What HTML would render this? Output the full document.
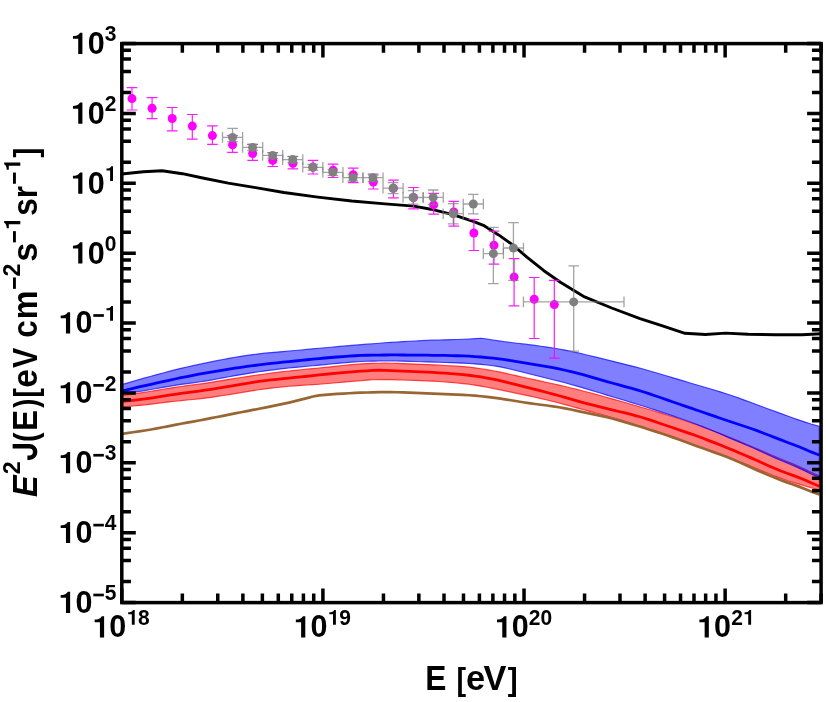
<!DOCTYPE html>
<html><head><meta charset="utf-8"><title>E2J(E) spectrum</title>
<style>
html,body{margin:0;padding:0;background:#fff;}
body{width:826px;height:702px;overflow:hidden;}
svg{display:block;}
text{font-family:"Liberation Sans",sans-serif;font-weight:bold;fill:#000;}
</style></head><body>
<svg width="826" height="702" viewBox="0 0 826 702">
<rect x="0" y="0" width="826" height="702" fill="#ffffff"/>
<defs><clipPath id="pc"><rect x="121.8" y="43.6" width="699.3" height="559"/></clipPath></defs>
<g clip-path="url(#pc)" fill="none" stroke-linejoin="round">
<path d="M121,395.8 L127,394.85 L133,393.94 L139,393.07 L145,392.2 L151,391.28 L157,390.31 L163,389.3 L169,388.31 L175,387.34 L181,386.46 L187,385.66 L193,384.92 L199,384.16 L205,383.31 L211,382.36 L217,381.35 L223,380.34 L229,379.35 L235,378.39 L241,377.46 L247,376.56 L253,375.67 L259,374.81 L265,373.98 L271,373.18 L277,372.4 L283,371.65 L289,370.95 L295,370.31 L301,369.72 L307,369.16 L313,368.6 L319,368.03 L325,367.43 L331,366.81 L337,366.17 L343,365.53 L349,364.92 L355,364.38 L361,363.94 L367,363.61 L373,363.38 L379,363.24 L385,363.19 L391,363.24 L397,363.39 L403,363.59 L409,363.83 L415,364.08 L421,364.33 L427,364.59 L433,364.87 L439,365.16 L445,365.46 L451,365.77 L457,366.14 L463,366.59 L469,367.16 L475,367.87 L481,368.7 L487,369.65 L493,370.73 L499,371.91 L505,373.18 L511,374.51 L517,375.86 L523,377.21 L529,378.55 L535,379.87 L541,381.16 L547,382.45 L553,383.75 L559,385.1 L565,386.49 L571,387.94 L577,389.43 L583,390.96 L589,392.53 L595,394.14 L601,395.78 L607,397.44 L613,399.12 L619,400.82 L625,402.53 L631,404.24 L637,405.97 L643,407.72 L649,409.49 L655,411.28 L661,413.09 L667,414.93 L673,416.81 L679,418.74 L685,420.71 L691,422.72 L697,424.82 L703,427 L709,429.26 L715,431.55 L721,433.88 L727,436.24 L733,438.66 L739,441.14 L745,443.66 L751,446.21 L757,448.77 L763,451.34 L769,453.91 L775,456.46 L781,458.97 L787,461.43 L793,463.89 L799,466.44 L805,469.22 L811,472.3 L819.3,475.9 L819.3,489.9 L811,487.78 L805,485.96 L799,484.17 L793,482.36 L787,480.46 L781,478.41 L775,476.16 L769,473.72 L763,471.19 L757,468.67 L751,466.21 L745,463.8 L739,461.46 L733,459.16 L727,456.92 L721,454.74 L715,452.6 L709,450.47 L703,448.35 L697,446.23 L691,444.13 L685,442.04 L679,439.95 L673,437.87 L667,435.78 L661,433.7 L655,431.62 L649,429.54 L643,427.49 L637,425.46 L631,423.46 L625,421.49 L619,419.56 L613,417.7 L607,415.95 L601,414.31 L595,412.72 L589,411.14 L583,409.53 L577,407.89 L571,406.23 L565,404.59 L559,403.01 L553,401.49 L547,400.04 L541,398.62 L535,397.24 L529,395.9 L523,394.6 L517,393.33 L511,392.07 L505,390.82 L499,389.58 L493,388.37 L487,387.21 L481,386.13 L475,385.16 L469,384.3 L463,383.56 L457,382.95 L451,382.43 L445,381.96 L439,381.53 L433,381.14 L427,380.83 L421,380.58 L415,380.38 L409,380.2 L403,380.02 L397,379.85 L391,379.68 L385,379.57 L379,379.59 L373,379.79 L367,380.14 L361,380.59 L355,381.09 L349,381.62 L343,382.16 L337,382.7 L331,383.24 L325,383.75 L319,384.23 L313,384.66 L307,385.04 L301,385.42 L295,385.82 L289,386.29 L283,386.86 L277,387.5 L271,388.18 L265,388.93 L259,389.74 L253,390.65 L247,391.62 L241,392.62 L235,393.62 L229,394.59 L223,395.53 L217,396.44 L211,397.31 L205,398.13 L199,398.85 L193,399.47 L187,400.03 L181,400.61 L175,401.23 L169,401.89 L163,402.61 L157,403.37 L151,404.13 L145,404.82 L139,405.44 L133,406.02 L127,406.6 L121,407.2 Z" fill="#ff0000" fill-opacity="0.5" stroke="#ff0000" stroke-opacity="0.7" stroke-width="1.15"/>
<path d="M121,384.8 L127,383.1 L133,381.39 L139,379.65 L145,377.92 L151,376.23 L157,374.58 L163,372.96 L169,371.38 L175,369.82 L181,368.33 L187,366.94 L193,365.63 L199,364.38 L205,363.13 L211,361.89 L217,360.65 L223,359.44 L229,358.31 L235,357.27 L241,356.32 L247,355.43 L253,354.6 L259,353.84 L265,353.19 L271,352.61 L277,352.09 L283,351.57 L289,351.05 L295,350.51 L301,349.96 L307,349.39 L313,348.83 L319,348.28 L325,347.73 L331,347.2 L337,346.68 L343,346.17 L349,345.66 L355,345.16 L361,344.66 L367,344.18 L373,343.7 L379,343.23 L385,342.77 L391,342.35 L397,341.97 L403,341.62 L409,341.3 L415,340.99 L421,340.69 L427,340.42 L433,340.18 L439,339.98 L445,339.81 L451,339.63 L457,339.45 L463,339.22 L469,338.95 L475,338.63 L481,338.29 L487,339.02 L493,340.01 L499,340.93 L505,341.76 L511,342.5 L517,343.21 L523,343.92 L529,344.65 L535,345.43 L541,346.24 L547,347.09 L553,348 L559,349 L565,350.12 L571,351.36 L577,352.66 L583,354.03 L589,355.44 L595,356.9 L601,358.39 L607,359.88 L613,361.37 L619,362.85 L625,364.33 L631,365.84 L637,367.39 L643,369.02 L649,370.72 L655,372.48 L661,374.26 L667,376.04 L673,377.83 L679,379.62 L685,381.4 L691,383.19 L697,384.97 L703,386.74 L709,388.51 L715,390.3 L721,392.11 L727,394.01 L733,396.01 L739,398.14 L745,400.34 L751,402.56 L757,404.79 L763,407 L769,409.21 L775,411.41 L781,413.61 L787,415.81 L793,417.98 L799,420.1 L805,422.1 L811,423.99 L819.3,426.4 L819.3,477.5 L811,473.94 L805,470.88 L799,468.13 L793,465.58 L787,463.09 L781,460.56 L775,457.93 L769,455.21 L763,452.47 L757,449.75 L751,447.08 L745,444.48 L739,441.92 L733,439.38 L727,436.85 L721,434.33 L715,431.81 L709,429.31 L703,426.85 L697,424.49 L691,422.23 L685,420.07 L679,417.97 L673,415.91 L667,413.87 L661,411.87 L655,409.91 L649,407.96 L643,406.05 L637,404.19 L631,402.37 L625,400.57 L619,398.78 L613,396.98 L607,395.15 L601,393.3 L595,391.44 L589,389.61 L583,387.83 L577,386.11 L571,384.45 L565,382.82 L559,381.24 L553,379.7 L547,378.19 L541,376.7 L535,375.21 L529,373.71 L523,372.22 L517,370.72 L511,369.25 L505,367.87 L499,366.66 L493,365.7 L487,364.97 L481,364.4 L475,363.92 L469,363.52 L463,363.19 L457,362.92 L451,362.69 L445,362.49 L439,362.29 L433,362.1 L427,361.91 L421,361.72 L415,361.53 L409,361.35 L403,361.17 L397,361.04 L391,360.96 L385,360.96 L379,361.02 L373,361.13 L367,361.28 L361,361.51 L355,361.86 L349,362.32 L343,362.86 L337,363.43 L331,364.01 L325,364.58 L319,365.15 L313,365.71 L307,366.26 L301,366.82 L295,367.39 L289,368.01 L283,368.67 L277,369.37 L271,370.11 L265,370.88 L259,371.72 L253,372.65 L247,373.63 L241,374.64 L235,375.68 L229,376.75 L223,377.85 L217,378.97 L211,380.07 L205,381.11 L199,382.03 L193,382.85 L187,383.62 L181,384.44 L175,385.34 L169,386.33 L163,387.38 L157,388.47 L151,389.55 L145,390.56 L139,391.49 L133,392.38 L127,393.28 L121,394.2 Z" fill="#0000ff" fill-opacity="0.5" stroke="#0000ff" stroke-opacity="0.7" stroke-width="1.15"/>
<path d="M121,434 L127,433.14 L133,432.27 L139,431.38 L145,430.46 L151,429.48 L157,428.42 L163,427.29 L169,426.11 L175,424.93 L181,423.77 L187,422.65 L193,421.57 L199,420.47 L205,419.35 L211,418.18 L217,417 L223,415.81 L229,414.62 L235,413.44 L241,412.28 L247,411.11 L253,409.95 L259,408.77 L265,407.59 L271,406.39 L277,405.18 L283,403.93 L289,402.6 L295,401.18 L301,399.67 L307,398.11 L313,396.53 L319,395.39 L325,394.84 L331,394.36 L337,393.95 L343,393.58 L349,393.25 L355,392.95 L361,392.7 L367,392.5 L373,392.34 L379,392.21 L385,392.13 L391,392.13 L397,392.24 L403,392.43 L409,392.67 L415,392.93 L421,393.19 L427,393.44 L433,393.67 L439,393.88 L445,394.09 L451,394.3 L457,394.54 L463,394.84 L469,395.23 L475,395.71 L481,396.27 L487,396.91 L493,397.63 L499,398.45 L505,399.34 L511,400.29 L517,401.26 L523,402.22 L529,403.13 L535,403.98 L541,404.75 L547,405.51 L553,406.3 L559,407.22 L565,408.31 L571,409.54 L577,410.84 L583,412.14 L589,413.4 L595,414.63 L601,415.88 L607,417.22 L613,418.7 L619,420.35 L625,422.09 L631,423.9 L637,425.73 L643,427.58 L649,429.45 L655,431.35 L661,433.29 L667,435.29 L673,437.38 L679,439.55 L685,441.75 L691,443.96 L697,446.15 L703,448.32 L709,450.46 L715,452.61 L721,454.8 L727,457.09 L733,459.53 L739,462.12 L745,464.8 L751,467.5 L757,470.17 L763,472.8 L769,475.37 L775,477.84 L781,480.18 L787,482.38 L793,484.5 L799,486.63 L805,488.91 L811,491.4 L819.3,494.5" stroke="#996633" stroke-width="2.7"/>
<path d="M121,401.7 L127,400.98 L133,400.29 L139,399.61 L145,398.88 L151,398.06 L157,397.14 L163,396.16 L169,395.19 L175,394.26 L181,393.39 L187,392.58 L193,391.82 L199,391.04 L205,390.19 L211,389.28 L217,388.31 L223,387.33 L229,386.33 L235,385.32 L241,384.29 L247,383.27 L253,382.29 L259,381.4 L265,380.62 L271,379.94 L277,379.31 L283,378.7 L289,378.09 L295,377.48 L301,376.87 L307,376.25 L313,375.62 L319,374.98 L325,374.36 L331,373.75 L337,373.17 L343,372.61 L349,372.07 L355,371.57 L361,371.15 L367,370.78 L373,370.45 L379,370.23 L385,370.46 L391,370.68 L397,370.91 L403,371.14 L409,371.38 L415,371.62 L421,371.87 L427,372.14 L433,372.46 L439,372.8 L445,373.18 L451,373.59 L457,374.04 L463,374.58 L469,375.25 L475,376.04 L481,376.97 L487,378.01 L493,379.18 L499,380.47 L505,381.86 L511,383.33 L517,384.82 L523,386.33 L529,387.85 L535,389.39 L541,390.94 L547,392.51 L553,394.11 L559,395.74 L565,397.43 L571,399.15 L577,400.87 L583,402.54 L589,404.14 L595,405.67 L601,407.15 L607,408.61 L613,410.06 L619,411.5 L625,412.95 L631,414.44 L637,416.03 L643,417.78 L649,419.68 L655,421.68 L661,423.72 L667,425.76 L673,427.78 L679,429.8 L685,431.82 L691,433.89 L697,436.03 L703,438.26 L709,440.57 L715,442.92 L721,445.29 L727,447.7 L733,450.16 L739,452.68 L745,455.24 L751,457.85 L757,460.51 L763,463.22 L769,465.92 L775,468.54 L781,470.99 L787,473.26 L793,475.41 L799,477.62 L805,480.04 L811,482.76 L819.3,486.3" stroke="#ff0000" stroke-width="2.8"/>
<path d="M121,391.2 L127,389.79 L133,388.38 L139,386.98 L145,385.61 L151,384.26 L157,382.94 L163,381.62 L169,380.31 L175,379 L181,377.73 L187,376.51 L193,375.35 L199,374.23 L205,373.16 L211,372.1 L217,371.06 L223,370.05 L229,369.08 L235,368.15 L241,367.28 L247,366.43 L253,365.62 L259,364.85 L265,364.14 L271,363.48 L277,362.85 L283,362.22 L289,361.61 L295,360.99 L301,360.37 L307,359.76 L313,359.15 L319,358.56 L325,358 L331,357.49 L337,357.01 L343,356.55 L349,356.12 L355,355.75 L361,355.47 L367,355.27 L373,355.13 L379,355.04 L385,354.98 L391,354.96 L397,354.97 L403,355 L409,355.04 L415,355.08 L421,355.14 L427,355.2 L433,355.28 L439,355.37 L445,355.47 L451,355.59 L457,355.73 L463,355.93 L469,356.21 L475,356.57 L481,357.01 L487,357.53 L493,358.15 L499,358.88 L505,359.71 L511,360.62 L517,361.57 L523,362.53 L529,363.51 L535,364.52 L541,365.56 L547,366.63 L553,367.74 L559,368.94 L565,370.25 L571,371.66 L577,373.15 L583,374.72 L589,376.37 L595,378.09 L601,379.83 L607,381.57 L613,383.26 L619,384.91 L625,386.53 L631,388.18 L637,389.9 L643,391.74 L649,393.69 L655,395.73 L661,397.8 L667,399.87 L673,401.95 L679,404.01 L685,406.08 L691,408.14 L697,410.21 L703,412.28 L709,414.35 L715,416.42 L721,418.47 L727,420.51 L733,422.52 L739,424.5 L745,426.49 L751,428.53 L757,430.68 L763,432.94 L769,435.27 L775,437.61 L781,439.92 L787,442.19 L793,444.44 L799,446.75 L805,449.21 L811,451.91 L819.3,455" stroke="#0000ff" stroke-width="2.8"/>
<path d="M121,174.2 L123.9,173.8 L143.4,171.7 L162.1,170.7 L182.4,173.7 L202.7,178 L228.2,183.1 L254,187.4 L283.9,192.5 L317.8,197.1 L351.7,201 L385,203.9 L413.9,206.1 L430.8,209.2 L452.9,214.6 L473.2,221.4 L483.4,225.3 L498.6,234.9 L512,244.4 L526.9,257.1 L543.9,270.7 L560.8,282.5 L584.6,296.9 L611.7,308 L640,318.6 L662.5,325.9 L685,333.3 L705.3,334.5 L725.6,333.1 L748.1,334.2 L775.1,334.7 L802.2,334.7 L821,333.8" stroke="#000" stroke-width="2.9"/>
</g>
<g clip-path="url(#pc)">
<g stroke="#ff00ff" stroke-opacity="0.9" stroke-width="1.2" fill="none">
<path d="M131.98,87.7 V110 M126.68,87.7 H137.28 M126.68,110 H137.28"/>
<path d="M152.09,97.6 V118.7 M146.79,97.6 H157.39 M146.79,118.7 H157.39"/>
<path d="M172.2,107.5 V130.8 M166.9,107.5 H177.5 M166.9,130.8 H177.5"/>
<path d="M192.31,114.5 V139.1 M187.01,114.5 H197.61 M187.01,139.1 H197.61"/>
<path d="M212.42,125.9 V144.3 M207.12,125.9 H217.72 M207.12,144.3 H217.72"/>
<path d="M232.53,135.6 V152.3 M227.23,135.6 H237.83 M227.23,152.3 H237.83"/>
<path d="M252.64,144.4 V160.4 M247.34,144.4 H257.94 M247.34,160.4 H257.94"/>
<path d="M272.76,152.5 V166.5 M267.46,152.5 H278.06 M267.46,166.5 H278.06"/>
<path d="M292.87,156.5 V168.9 M287.57,156.5 H298.17 M287.57,168.9 H298.17"/>
<path d="M312.98,160.4 V174 M307.68,160.4 H318.28 M307.68,174 H318.28"/>
<path d="M333.09,164.2 V177.5 M327.79,164.2 H338.39 M327.79,177.5 H338.39"/>
<path d="M353.2,168.2 V182.6 M347.9,168.2 H358.5 M347.9,182.6 H358.5"/>
<path d="M373.31,175 V189 M368.01,175 H378.61 M368.01,189 H378.61"/>
<path d="M393.42,180.2 V197.9 M388.12,180.2 H398.72 M388.12,197.9 H398.72"/>
<path d="M413.54,187.5 V208.8 M408.24,187.5 H418.84 M408.24,208.8 H418.84"/>
<path d="M433.65,193.3 V214.2 M428.35,193.3 H438.95 M428.35,214.2 H438.95"/>
<path d="M453.76,201.3 V226.2 M448.46,201.3 H459.06 M448.46,226.2 H459.06"/>
<path d="M473.87,219.5 V250.5 M468.57,219.5 H479.17 M468.57,250.5 H479.17"/>
<path d="M493.98,231.1 V264.2 M488.68,231.1 H499.28 M488.68,264.2 H499.28"/>
<path d="M514.09,258.7 V305.9 M508.79,258.7 H519.39 M508.79,305.9 H519.39"/>
<path d="M534.21,277.5 V338.5 M528.91,277.5 H539.51 M528.91,338.5 H539.51"/>
<path d="M554.32,280.4 V358.2 M549.02,280.4 H559.62 M549.02,358.2 H559.62"/>
</g>
<g fill="#ff00ff">
<circle cx="131.98" cy="98.6" r="4.5"/>
<circle cx="152.09" cy="108.3" r="4.5"/>
<circle cx="172.2" cy="118.5" r="4.5"/>
<circle cx="192.31" cy="126.1" r="4.5"/>
<circle cx="212.42" cy="135.6" r="4.5"/>
<circle cx="232.53" cy="144.7" r="4.5"/>
<circle cx="252.64" cy="153.5" r="4.5"/>
<circle cx="272.76" cy="160.4" r="4.5"/>
<circle cx="292.87" cy="163.4" r="4.5"/>
<circle cx="312.98" cy="167.1" r="4.5"/>
<circle cx="333.09" cy="170.2" r="4.5"/>
<circle cx="353.2" cy="174.8" r="4.5"/>
<circle cx="373.31" cy="182" r="4.5"/>
<circle cx="393.42" cy="188.2" r="4.5"/>
<circle cx="413.54" cy="197.5" r="4.5"/>
<circle cx="433.65" cy="204.9" r="4.5"/>
<circle cx="453.76" cy="211.9" r="4.5"/>
<circle cx="473.87" cy="233" r="4.5"/>
<circle cx="493.98" cy="245.3" r="4.5"/>
<circle cx="514.09" cy="277.1" r="4.5"/>
<circle cx="534.21" cy="299.2" r="4.5"/>
<circle cx="554.32" cy="304.6" r="4.5"/>
</g>
<g stroke="#808080" stroke-opacity="0.72" stroke-width="1.3" fill="none">
<path d="M232.56,128.3 V141.6 M227.26,128.3 H237.86 M227.26,141.6 H237.86 M222.51,137.4 H242.62 M222.51,132.1 V142.7 M242.62,132.1 V142.7"/>
<path d="M252.62,144.4 V150.3 M247.32,144.4 H257.92 M247.32,150.3 H257.92 M242.57,147.4 H262.68 M242.57,142.1 V152.7 M262.68,142.1 V152.7"/>
<path d="M272.69,152.8 V158.3 M267.39,152.8 H277.99 M267.39,158.3 H277.99 M262.63,155.4 H282.74 M262.63,150.1 V160.7 M282.74,150.1 V160.7"/>
<path d="M292.75,156.5 V162.5 M287.45,156.5 H298.05 M287.45,162.5 H298.05 M282.69,159.6 H302.8 M282.69,154.3 V164.9 M302.8,154.3 V164.9"/>
<path d="M312.81,164.5 V170.2 M307.51,164.5 H318.11 M307.51,170.2 H318.11 M302.75,167.3 H322.86 M302.75,162 V172.6 M322.86,162 V172.6"/>
<path d="M332.87,169.3 V175.3 M327.57,169.3 H338.17 M327.57,175.3 H338.17 M322.81,172.3 H342.93 M322.81,167 V177.6 M342.93,167 V177.6"/>
<path d="M352.93,174.5 V181 M347.63,174.5 H358.23 M347.63,181 H358.23 M342.88,177.7 H362.99 M342.88,172.4 V183 M362.99,172.4 V183"/>
<path d="M372.99,174 V181.5 M367.69,174 H378.29 M367.69,181.5 H378.29 M362.94,177.7 H383.05 M362.94,172.4 V183 M383.05,172.4 V183"/>
<path d="M393.05,182.6 V193.6 M387.75,182.6 H398.35 M387.75,193.6 H398.35 M383,188.2 H403.11 M383,182.9 V193.5 M403.11,182.9 V193.5"/>
<path d="M413.12,190.6 V204.2 M407.82,190.6 H418.42 M407.82,204.2 H418.42 M403.06,197.5 H423.17 M403.06,192.2 V202.8 M423.17,192.2 V202.8"/>
<path d="M433.18,190 V204.6 M427.88,190 H438.48 M427.88,204.6 H438.48 M423.12,197.4 H443.23 M423.12,192.1 V202.7 M443.23,192.1 V202.7"/>
<path d="M453.24,203.6 V223.9 M447.94,203.6 H458.54 M447.94,223.9 H458.54 M443.18,213.7 H463.29 M443.18,208.4 V219 M463.29,208.4 V219"/>
<path d="M473.3,194.3 V213.9 M468,194.3 H478.6 M468,213.9 H478.6 M463.24,204 H483.36 M463.24,198.7 V209.3 M483.36,198.7 V209.3"/>
<path d="M493.36,227.4 V283.7 M488.06,227.4 H498.66 M488.06,283.7 H498.66 M483.31,253.6 H503.42 M483.31,248.3 V258.9 M503.42,248.3 V258.9"/>
<path d="M513.42,222.6 V280.4 M508.12,222.6 H518.72 M508.12,280.4 H518.72 M503.37,248 H523.48 M503.37,242.7 V253.3 M523.48,242.7 V253.3"/>
<path d="M573.71,265.8 V351.1 M568.41,265.8 H579.01 M568.41,351.1 H579.01 M523.43,301.9 H623.99 M523.43,296.6 V307.2 M623.99,296.6 V307.2"/>
</g>
<g fill="#808080">
<circle cx="232.56" cy="137.4" r="4.5"/>
<circle cx="252.62" cy="147.4" r="4.5"/>
<circle cx="272.69" cy="155.4" r="4.5"/>
<circle cx="292.75" cy="159.6" r="4.5"/>
<circle cx="312.81" cy="167.3" r="4.5"/>
<circle cx="332.87" cy="172.3" r="4.5"/>
<circle cx="352.93" cy="177.7" r="4.5"/>
<circle cx="372.99" cy="177.7" r="4.5"/>
<circle cx="393.05" cy="188.2" r="4.5"/>
<circle cx="413.12" cy="197.5" r="4.5"/>
<circle cx="433.18" cy="197.4" r="4.5"/>
<circle cx="453.24" cy="213.7" r="4.5"/>
<circle cx="473.3" cy="204" r="4.5"/>
<circle cx="493.36" cy="253.6" r="4.5"/>
<circle cx="513.42" cy="248" r="4.5"/>
<circle cx="573.71" cy="301.9" r="4.5"/>
</g>
</g>
<g stroke="#000" stroke-width="3.5" fill="none" stroke-linecap="butt">
<rect x="121.8" y="43.6" width="699.3" height="559"/>
<path d="M121.8,602.6 v-14 M121.8,43.6 v14 M182.34,602.6 v-9.15 M182.34,43.6 v9.15 M217.76,602.6 v-9.15 M217.76,43.6 v9.15 M242.88,602.6 v-9.15 M242.88,43.6 v9.15 M262.37,602.6 v-9.15 M262.37,43.6 v9.15 M278.3,602.6 v-9.15 M278.3,43.6 v9.15 M291.76,602.6 v-9.15 M291.76,43.6 v9.15 M303.42,602.6 v-9.15 M303.42,43.6 v9.15 M313.71,602.6 v-9.15 M313.71,43.6 v9.15 M322.91,602.6 v-14 M322.91,43.6 v14 M383.46,602.6 v-9.15 M383.46,43.6 v9.15 M418.87,602.6 v-9.15 M418.87,43.6 v9.15 M444,602.6 v-9.15 M444,43.6 v9.15 M463.49,602.6 v-9.15 M463.49,43.6 v9.15 M479.41,602.6 v-9.15 M479.41,43.6 v9.15 M492.88,602.6 v-9.15 M492.88,43.6 v9.15 M504.54,602.6 v-9.15 M504.54,43.6 v9.15 M514.83,602.6 v-9.15 M514.83,43.6 v9.15 M524.03,602.6 v-14 M524.03,43.6 v14 M584.57,602.6 v-9.15 M584.57,43.6 v9.15 M619.99,602.6 v-9.15 M619.99,43.6 v9.15 M645.11,602.6 v-9.15 M645.11,43.6 v9.15 M664.6,602.6 v-9.15 M664.6,43.6 v9.15 M680.53,602.6 v-9.15 M680.53,43.6 v9.15 M693.99,602.6 v-9.15 M693.99,43.6 v9.15 M705.65,602.6 v-9.15 M705.65,43.6 v9.15 M715.94,602.6 v-9.15 M715.94,43.6 v9.15 M725.14,602.6 v-14 M725.14,43.6 v14 M785.69,602.6 v-9.15 M785.69,43.6 v9.15 M821.1,602.6 v-9.15 M821.1,43.6 v9.15 M121.8,602.6 h14 M821.1,602.6 h-14 M121.8,581.57 h9.15 M821.1,581.57 h-9.15 M121.8,560.53 h9.15 M821.1,560.53 h-9.15 M121.8,548.23 h9.15 M821.1,548.23 h-9.15 M121.8,539.5 h9.15 M821.1,539.5 h-9.15 M121.8,532.73 h14 M821.1,532.73 h-14 M121.8,511.69 h9.15 M821.1,511.69 h-9.15 M121.8,490.66 h9.15 M821.1,490.66 h-9.15 M121.8,478.35 h9.15 M821.1,478.35 h-9.15 M121.8,469.62 h9.15 M821.1,469.62 h-9.15 M121.8,462.85 h14 M821.1,462.85 h-14 M121.8,441.82 h9.15 M821.1,441.82 h-9.15 M121.8,420.78 h9.15 M821.1,420.78 h-9.15 M121.8,408.48 h9.15 M821.1,408.48 h-9.15 M121.8,399.75 h9.15 M821.1,399.75 h-9.15 M121.8,392.98 h14 M821.1,392.98 h-14 M121.8,371.94 h9.15 M821.1,371.94 h-9.15 M121.8,350.91 h9.15 M821.1,350.91 h-9.15 M121.8,338.6 h9.15 M821.1,338.6 h-9.15 M121.8,329.87 h9.15 M821.1,329.87 h-9.15 M121.8,323.1 h14 M821.1,323.1 h-14 M121.8,302.07 h9.15 M821.1,302.07 h-9.15 M121.8,281.03 h9.15 M821.1,281.03 h-9.15 M121.8,268.73 h9.15 M821.1,268.73 h-9.15 M121.8,260 h9.15 M821.1,260 h-9.15 M121.8,253.22 h14 M821.1,253.22 h-14 M121.8,232.19 h9.15 M821.1,232.19 h-9.15 M121.8,211.16 h9.15 M821.1,211.16 h-9.15 M121.8,198.85 h9.15 M821.1,198.85 h-9.15 M121.8,190.12 h9.15 M821.1,190.12 h-9.15 M121.8,183.35 h14 M821.1,183.35 h-14 M121.8,162.32 h9.15 M821.1,162.32 h-9.15 M121.8,141.28 h9.15 M821.1,141.28 h-9.15 M121.8,128.98 h9.15 M821.1,128.98 h-9.15 M121.8,120.25 h9.15 M821.1,120.25 h-9.15 M121.8,113.47 h14 M821.1,113.47 h-14 M121.8,92.44 h9.15 M821.1,92.44 h-9.15 M121.8,71.41 h9.15 M821.1,71.41 h-9.15 M121.8,59.1 h9.15 M821.1,59.1 h-9.15 M121.8,50.37 h9.15 M821.1,50.37 h-9.15 M121.8,43.6 h14 M821.1,43.6 h-14"/>
</g>
<g opacity="0.999" fill="#000">
<path transform="translate(58.14,612.95) scale(31.0)" d="M0.387,0H0.252V-0.487H0.082V-0.576C0.17,-0.578 0.255,-0.59 0.312,-0.684H0.387Z"/>
<text transform="translate(75.38,612.95) scale(0.985,1.02)" font-size="31.0">0</text>
<rect x="93.31" y="593.65" width="10.55" height="2.7"/>
<text transform="translate(104.72,600.2) scale(0.942,1.0)" font-size="22.3">5</text>
<path transform="translate(58.14,543.08) scale(31.0)" d="M0.387,0H0.252V-0.487H0.082V-0.576C0.17,-0.578 0.255,-0.59 0.312,-0.684H0.387Z"/>
<text transform="translate(75.38,543.08) scale(0.985,1.02)" font-size="31.0">0</text>
<rect x="93.31" y="523.77" width="10.55" height="2.7"/>
<text transform="translate(104.72,530.33) scale(0.942,1.0)" font-size="22.3">4</text>
<path transform="translate(58.14,473.2) scale(31.0)" d="M0.387,0H0.252V-0.487H0.082V-0.576C0.17,-0.578 0.255,-0.59 0.312,-0.684H0.387Z"/>
<text transform="translate(75.38,473.2) scale(0.985,1.02)" font-size="31.0">0</text>
<rect x="93.31" y="453.9" width="10.55" height="2.7"/>
<text transform="translate(104.72,460.45) scale(0.942,1.0)" font-size="22.3">3</text>
<path transform="translate(58.14,403.33) scale(31.0)" d="M0.387,0H0.252V-0.487H0.082V-0.576C0.17,-0.578 0.255,-0.59 0.312,-0.684H0.387Z"/>
<text transform="translate(75.38,403.33) scale(0.985,1.02)" font-size="31.0">0</text>
<rect x="93.31" y="384.03" width="10.55" height="2.7"/>
<text transform="translate(104.72,390.58) scale(0.942,1.0)" font-size="22.3">2</text>
<path transform="translate(58.14,333.45) scale(31.0)" d="M0.387,0H0.252V-0.487H0.082V-0.576C0.17,-0.578 0.255,-0.59 0.312,-0.684H0.387Z"/>
<text transform="translate(75.38,333.45) scale(0.985,1.02)" font-size="31.0">0</text>
<rect x="93.31" y="314.15" width="10.55" height="2.7"/>
<path transform="translate(104.72,320.7) scale(21.4)" d="M0.387,0H0.252V-0.487H0.082V-0.576C0.17,-0.578 0.255,-0.59 0.312,-0.684H0.387Z"/>
<path transform="translate(70.41,263.57) scale(31.0)" d="M0.387,0H0.252V-0.487H0.082V-0.576C0.17,-0.578 0.255,-0.59 0.312,-0.684H0.387Z"/>
<text transform="translate(87.64,263.57) scale(0.985,1.02)" font-size="31.0">0</text>
<text transform="translate(104.72,250.82) scale(0.942,1.0)" font-size="22.3">0</text>
<path transform="translate(70.41,193.7) scale(31.0)" d="M0.387,0H0.252V-0.487H0.082V-0.576C0.17,-0.578 0.255,-0.59 0.312,-0.684H0.387Z"/>
<text transform="translate(87.64,193.7) scale(0.985,1.02)" font-size="31.0">0</text>
<path transform="translate(104.72,180.95) scale(21.4)" d="M0.387,0H0.252V-0.487H0.082V-0.576C0.17,-0.578 0.255,-0.59 0.312,-0.684H0.387Z"/>
<path transform="translate(70.41,123.82) scale(31.0)" d="M0.387,0H0.252V-0.487H0.082V-0.576C0.17,-0.578 0.255,-0.59 0.312,-0.684H0.387Z"/>
<text transform="translate(87.64,123.82) scale(0.985,1.02)" font-size="31.0">0</text>
<text transform="translate(104.72,111.07) scale(0.942,1.0)" font-size="22.3">2</text>
<path transform="translate(70.41,53.95) scale(31.0)" d="M0.387,0H0.252V-0.487H0.082V-0.576C0.17,-0.578 0.255,-0.59 0.312,-0.684H0.387Z"/>
<text transform="translate(87.64,53.95) scale(0.985,1.02)" font-size="31.0">0</text>
<text transform="translate(104.72,41.2) scale(0.942,1.0)" font-size="22.3">3</text>
<path transform="translate(92.12,637.45) scale(31.0)" d="M0.387,0H0.252V-0.487H0.082V-0.576C0.17,-0.578 0.255,-0.59 0.312,-0.684H0.387Z"/>
<text transform="translate(109.35,637.45) scale(0.985,1.02)" font-size="31.0">0</text>
<path transform="translate(126.43,624.7) scale(21.4)" d="M0.387,0H0.252V-0.487H0.082V-0.576C0.17,-0.578 0.255,-0.59 0.312,-0.684H0.387Z"/>
<text transform="translate(138.11,624.7) scale(0.942,1.0)" font-size="22.3">8</text>
<path transform="translate(293.3,637.45) scale(31.0)" d="M0.387,0H0.252V-0.487H0.082V-0.576C0.17,-0.578 0.255,-0.59 0.312,-0.684H0.387Z"/>
<text transform="translate(310.53,637.45) scale(0.985,1.02)" font-size="31.0">0</text>
<path transform="translate(327.61,624.7) scale(21.4)" d="M0.387,0H0.252V-0.487H0.082V-0.576C0.17,-0.578 0.255,-0.59 0.312,-0.684H0.387Z"/>
<text transform="translate(339.29,624.7) scale(0.942,1.0)" font-size="22.3">9</text>
<path transform="translate(494.45,637.45) scale(31.0)" d="M0.387,0H0.252V-0.487H0.082V-0.576C0.17,-0.578 0.255,-0.59 0.312,-0.684H0.387Z"/>
<text transform="translate(511.69,637.45) scale(0.985,1.02)" font-size="31.0">0</text>
<text transform="translate(528.77,624.7) scale(0.942,1.0)" font-size="22.3">20</text>
<path transform="translate(696.84,637.45) scale(31.0)" d="M0.387,0H0.252V-0.487H0.082V-0.576C0.17,-0.578 0.255,-0.59 0.312,-0.684H0.387Z"/>
<text transform="translate(714.07,637.45) scale(0.985,1.02)" font-size="31.0">0</text>
<text transform="translate(731.15,624.7) scale(0.942,1.0)" font-size="22.3">2</text>
<path transform="translate(742.83,624.7) scale(21.4)" d="M0.387,0H0.252V-0.487H0.082V-0.576C0.17,-0.578 0.255,-0.59 0.312,-0.684H0.387Z"/>
<text transform="translate(425.19,690.3) scale(0.979,1.065)" font-size="32.4">E</text>
<text transform="translate(456.46,690.3) scale(0.889,0.967)" font-size="32.4">[</text>
<text transform="translate(465.93,690.3) scale(1.060,1.065)" font-size="32.4">e</text>
<text transform="translate(483.62,690.3) scale(1.059,1.065)" font-size="32.4">V</text>
<text transform="translate(507.71,690.3) scale(0.918,0.967)" font-size="32.4">]</text>
<text transform="translate(36.5,497.09) rotate(-90) scale(1.014,1.115)" font-size="32.2" font-style="italic">E</text>
<text transform="translate(20.3,474.31) rotate(-90) scale(1.026,1.075)" font-size="22.6">2</text>
<text transform="translate(36.5,442.02) rotate(-90) scale(0.881,1.05)" font-size="32.2">(</text>
<text transform="translate(36.5,430.69) rotate(-90) scale(0.969,1.115)" font-size="32.2">E</text>
<text transform="translate(36.5,407.83) rotate(-90) scale(0.848,1.05)" font-size="32.2">)</text>
<text transform="translate(36.5,397.38) rotate(-90) scale(0.879,1.015)" font-size="32.2">[</text>
<text transform="translate(36.5,387.8) rotate(-90) scale(1.035,1.115)" font-size="32.2">e</text>
<text transform="translate(36.5,367.91) rotate(-90) scale(0.937,1.115)" font-size="32.2">V</text>
<text transform="translate(36.5,337.63) rotate(-90) scale(0.980,1.115)" font-size="32.2">c</text>
<text transform="translate(36.5,319.33) rotate(-90) scale(1.004,1.115)" font-size="32.2">m</text>
<text transform="translate(20.3,276.41) rotate(-90) scale(1.021,1.075)" font-size="22.6">2</text>
<text transform="translate(36.5,261.8) rotate(-90) scale(1.068,1.115)" font-size="32.2">s</text>
<text transform="translate(36.5,215.8) rotate(-90) scale(0.979,1.115)" font-size="32.2">sr</text>
<text transform="translate(36.5,157.56) rotate(-90) scale(0.926,1.015)" font-size="32.2">]</text>
<path transform="translate(36.5,459.85) rotate(-90)" d="M13.55,-23.85V-7.03A5.675,5.675 0 0 1 2.2,-7.03V-9.1" fill="none" stroke="#000" stroke-width="4.5"/>
<rect x="13" y="277.45" width="2.9" height="11.4"/>
<rect x="13" y="231.15" width="2.9" height="11.2"/>
<rect x="13" y="172.55" width="2.9" height="11.2"/>
<path transform="translate(20.3,230.19) rotate(-90) scale(23.6)" d="M0.387,0H0.252V-0.487H0.082V-0.576C0.17,-0.578 0.255,-0.59 0.312,-0.684H0.387Z"/>
<path transform="translate(20.3,171.59) rotate(-90) scale(23.6)" d="M0.387,0H0.252V-0.487H0.082V-0.576C0.17,-0.578 0.255,-0.59 0.312,-0.684H0.387Z"/>
</g>
</svg>
</body></html>
